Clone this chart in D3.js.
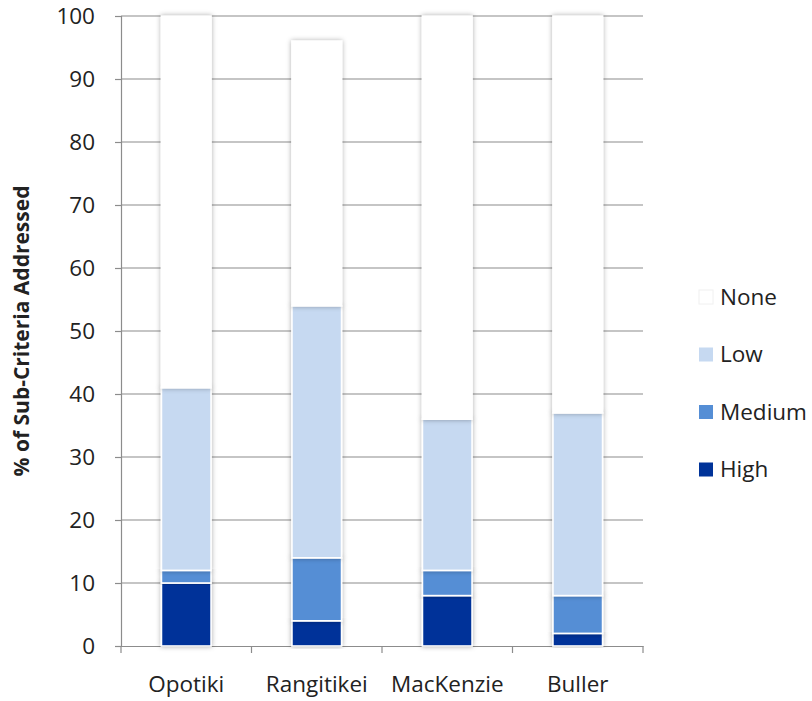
<!DOCTYPE html>
<html>
<head>
<meta charset="utf-8">
<script src="https://cdn.jsdelivr.net/npm/d3@7"></script>
<style>
  body { margin: 0; background: #fff; }
  svg text { font-family: "Open Sans", "Liberation Sans", sans-serif; fill: #222; }
</style>
</head>
<body>
<svg id="chart" width="812" height="701"></svg>
<script>
const categories = ["Opotiki", "Rangitikei", "MacKenzie", "Buller"];
const seriesNames = ["High", "Medium", "Low", "None"];
const high   = [10, 4, 8, 2];
const medium = [2, 10, 4, 6];
const low    = [29, 40, 24, 29];
const none   = [59, 42, 64, 63];
const yTicks = [0, 10, 20, 30, 40, 50, 60, 70, 80, 90, 100];
const colors = { High: "#003399", Medium: "#558ED5", Low: "#C6D9F1", None: "#FFFFFF" };

const rows = categories.map((c, i) => ({ cat: c, High: high[i], Medium: medium[i], Low: low[i], None: none[i] }));
const stacked = d3.stack().keys(seriesNames)(rows);

const svg = d3.select("#chart");
const mLeft = 121, mRight = 643, mTop = 16, mBottom = 646;

const defs = svg.append("defs");
const f = defs.append("filter").attr("id", "shadow").attr("x", "-30%").attr("y", "-10%").attr("width", "160%").attr("height", "120%");
f.append("feDropShadow").attr("dx", 0).attr("dy", 0).attr("stdDeviation", 2.5)
  .attr("flood-color", "#000").attr("flood-opacity", 0.32);

const x = d3.scaleBand().domain(categories).range([mLeft, mRight]).paddingInner(0.62).paddingOuter(0.31);
const xb = d3.scaleBand().domain(categories).range([mLeft, mRight]);
const y = d3.scaleLinear().domain([0, 100]).range([mBottom, mTop]);

// gridlines
svg.append("g").selectAll("line").data(yTicks.filter(t => t > 0)).join("line")
  .attr("x1", mLeft).attr("x2", mRight)
  .attr("y1", d => y(d)).attr("y2", d => y(d))
  .attr("stroke", "#8c8c8c").attr("stroke-width", 1.2);

// y axis
const yAxis = svg.append("g").attr("transform", `translate(${mLeft},0)`)
  .call(d3.axisLeft(y).tickValues(yTicks).tickSize(6).tickPadding(20));
yAxis.select(".domain").attr("stroke", "#8c8c8c").attr("stroke-width", 1.2);
yAxis.selectAll(".tick line").attr("stroke", "#8c8c8c").attr("stroke-width", 1.2);
yAxis.selectAll("text").attr("font-size", 22.5).attr("fill", "#222");

// x axis
const xAxis = svg.append("g").attr("transform", `translate(0,${mBottom})`)
  .call(d3.axisBottom(xb).tickSize(0).tickPadding(30));
xAxis.select(".domain").attr("stroke", "#8c8c8c").attr("stroke-width", 1.2);
xAxis.selectAll("text").attr("font-size", 22.5).attr("fill", "#222");
svg.append("g").selectAll("line").data(d3.range(categories.length + 1)).join("line")
  .attr("x1", i => mLeft + i * xb.step()).attr("x2", i => mLeft + i * xb.step())
  .attr("y1", mBottom).attr("y2", mBottom + 7)
  .attr("stroke", "#8c8c8c").attr("stroke-width", 1.2);

// bars
const barG = svg.append("g");
barG.selectAll("g").data(stacked).join("g")
  .attr("fill", d => colors[d.key])
  .selectAll("rect").data(d => d).join("rect")
  .attr("x", d => x(d.data.cat))
  .attr("width", x.bandwidth())
  .attr("y", d => y(d[1]))
  .attr("height", d => y(d[0]) - y(d[1]))
  .attr("stroke", "#fff").attr("stroke-width", 1.6)
  .attr("filter", "url(#shadow)");

// y label
svg.append("text")
  .attr("transform", `translate(29,${(mTop + mBottom) / 2}) rotate(-90)`)
  .attr("text-anchor", "middle")
  .attr("font-size", 21).attr("font-weight", "bold")
  .text("% of Sub-Criteria Addressed");

// legend
const legendOrder = ["None", "Low", "Medium", "High"];
const lg = svg.append("g").selectAll("g").data(legendOrder).join("g")
  .attr("transform", (d, i) => `translate(699,${297 + i * 57.5})`);
lg.append("rect").attr("x", 0).attr("y", -7).attr("width", 14).attr("height", 14)
  .attr("fill", d => colors[d]).attr("stroke", d => d === "None" ? "#f0f0f0" : "none");
lg.append("text").attr("x", 21).attr("y", 0).attr("dy", "0.35em")
  .attr("font-size", 22.5).text(d => d);
</script>
</body>
</html>
